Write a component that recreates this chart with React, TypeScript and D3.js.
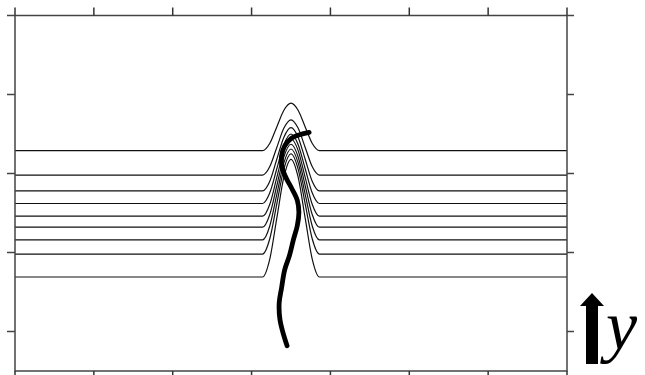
import React from 'react';
import * as d3 from 'd3';

// trace baselines and bump peaks (y units)
const traceBase = [2.29, 1.98, 1.78, 1.62, 1.46, 1.32, 1.16, 0.98, 0.69];
const tracePeak = [2.89, 2.68, 2.58, 2.5, 2.44, 2.37, 2.31, 2.25, 2.18];
const bumpCenter = 3.5;
// shared bump shape: offset from centre (x units) and relative height
const bumpOffsets = [-0.36, -0.27, -0.18, -0.09, 0, 0.09, 0.18, 0.27, 0.36];
const bumpShape = [0, 0.15, 0.5, 0.85, 1, 0.85, 0.5, 0.15, 0];

// thick ridge curve, top to bottom
const ridgeX = [3.73, 3.61, 3.51, 3.42, 3.38, 3.39, 3.44, 3.51, 3.58, 3.6, 3.58, 3.53, 3.48, 3.42, 3.38, 3.35, 3.36, 3.4, 3.45];
const ridgeY = [2.52, 2.49, 2.45, 2.35, 2.22, 2.07, 1.94, 1.81, 1.66, 1.51, 1.34, 1.16, 0.96, 0.78, 0.55, 0.36, 0.15, -0.02, -0.18];

const xTicks = [0, 1, 2, 3, 4, 5, 6, 7];
const yTicks = [0, 1, 2, 3, 4];

const W = 645;
const H = 375;

const App = () => {
  const x = d3.scaleLinear().domain([0, 7]).range([15, 567]);
  const y = d3.scaleLinear().domain([-0.5, 4]).range([371, 15.5]);

  const traceLine = d3
    .line<[number, number]>()
    .x((d) => x(d[0]))
    .y((d) => y(d[1]))
    .curve(d3.curveMonotoneX);

  const ridgeLine = d3
    .line<[number, number]>()
    .x((d) => x(d[0]))
    .y((d) => y(d[1]))
    .curve(d3.curveCatmullRom);

  const traces = traceBase.map((b, i) => {
    const amp = tracePeak[i] - b;
    const pts: [number, number][] = [[0, b]];
    bumpOffsets.forEach((o, k) => pts.push([bumpCenter + o, b + amp * bumpShape[k]]));
    pts.push([7, b]);
    return traceLine(pts);
  });

  const ridge = ridgeLine(ridgeX.map((v, i) => [v, ridgeY[i]] as [number, number]));

  const [x0, x1] = x.range();
  const [y0, y1] = y.range();

  return (
    <svg
      width={W}
      height={H}
      style={{ position: 'absolute', left: 0, top: 0, background: '#fff' }}
    >
      {traces.map((d, i) => (
        <path key={i} d={d || ''} fill='none' stroke='#111' strokeWidth={1.2} />
      ))}
      <path d={ridge || ''} fill='none' stroke='#000' strokeWidth={4.8} strokeLinecap='round' />

      {/* frame */}
      <rect
        x={x0}
        y={y1}
        width={x1 - x0}
        height={y0 - y1}
        fill='none'
        stroke='#444'
        strokeWidth={1.5}
      />
      {xTicks.map((t) => (
        <g key={'x' + t} stroke='#333' strokeWidth={1.5}>
          <line x1={x(t)} x2={x(t)} y1={y1} y2={y1 - 8} />
          <line x1={x(t)} x2={x(t)} y1={y0} y2={y0 + 8} />
        </g>
      ))}
      {yTicks.map((t) => (
        <g key={'y' + t} stroke='#444' strokeWidth={1.5}>
          <line x1={x0} x2={x0 - 8} y1={y(t)} y2={y(t)} />
          <line x1={x1} x2={x1 + 7} y1={y(t)} y2={y(t)} />
        </g>
      ))}

      {/* y direction marker */}
      <path d='M586,364 L586,306 L580,306 L592,293 L604,306 L598,306 L598,364 Z' fill='#000' />
      <text
        x={606}
        y={349}
        style={{ fontFamily: "'Liberation Serif', 'DejaVu Serif', serif", fontStyle: 'italic' }}
        fontSize={70}
        fill='#000'
      >
        y
      </text>
    </svg>
  );
};

export default App;
